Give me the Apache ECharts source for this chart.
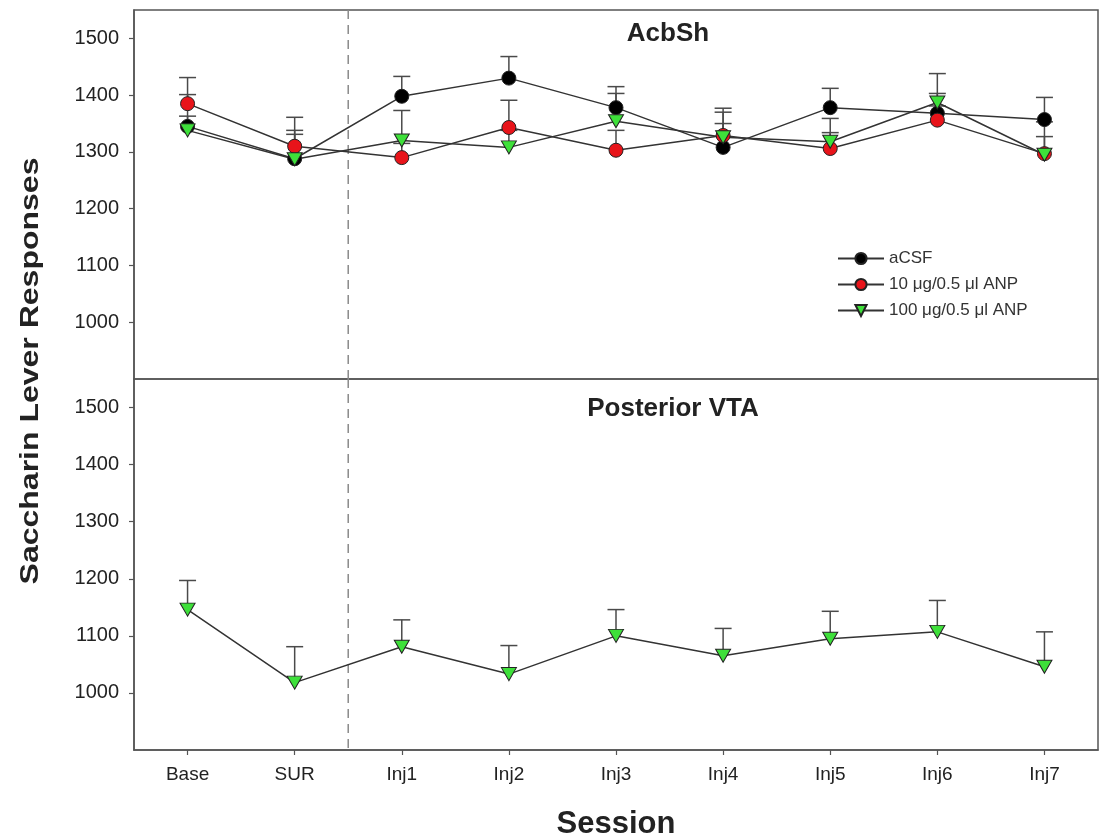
<!DOCTYPE html>
<html>
<head>
<meta charset="utf-8">
<script src="https://cdn.jsdelivr.net/npm/echarts@6/dist/echarts.min.js"></script>
<style>html,body{margin:0;padding:0;background:#fff}#c{width:1101px;height:838px}</style>
</head>
<body>
<div id="c"></div>
<script>
const sessions = ['Base', 'SUR', 'Inj1', 'Inj2', 'Inj3', 'Inj4', 'Inj5', 'Inj6', 'Inj7'];
const dividerBefore = 'Inj1';
const yTicks = [1000, 1100, 1200, 1300, 1400, 1500];
const yMin = 900, yMax = 1550;

// Panel A: AcbSh
const acbshACSF = [1345, 1288, 1398, 1430, 1378, 1308, 1378, 1368, 1357];
const acbshACSFErr = [56, 50, 35, 38, 37, 42, 34, 35, 39];
const acbsh10 = [1385, 1310, 1290, 1343, 1303, 1329, 1306, 1356, 1297];
const acbsh10Err = [46, 51, 25, 48, 35, 41, 28, 25, 30];
const acbsh100 = [1338, 1287, 1320, 1308, 1354, 1326, 1318, 1387, 1295];
const acbsh100Err = [25, 44, 53, 30, 49, 51, 41, 51, 58];

// Panel B: Posterior VTA
const vta100 = [1146, 1018, 1081, 1033, 1100, 1065, 1095, 1107, 1046];
const vta100Err = [51, 63, 47, 50, 46, 48, 48, 55, 61];

const names = ['aCSF', '10 \u03bcg/0.5 \u03bcl ANP', '100 \u03bcg/0.5 \u03bcl ANP'];

const FONT = "'Liberation Sans', Arial, sans-serif";
const frameColor = '#555';

function errData(m, e) { return m.map((v, i) => [i, v, e[i]]); }

function errRender(params, api) {
  const i = api.value(0), m = api.value(1), e = api.value(2);
  const p0 = api.coord([i, m]);
  const p1 = api.coord([i, m + e]);
  const hw = 8.5;
  const st = { stroke: '#4a4a4a', lineWidth: 1.5 };
  return {
    type: 'group',
    children: [
      { type: 'line', shape: { x1: p0[0], y1: p0[1], x2: p1[0], y2: p1[1] }, style: st },
      { type: 'line', shape: { x1: p1[0] - hw, y1: p1[1], x2: p1[0] + hw, y2: p1[1] }, style: st }
    ]
  };
}

const divIdx = sessions.indexOf(dividerBefore);
function divRender(params, api) {
  const a = api.coord([divIdx - 1, yMax]);
  const b = api.coord([divIdx, yMin]);
  const x = (a[0] + b[0]) / 2;
  return {
    type: 'line',
    shape: { x1: x, y1: a[1], x2: x, y2: b[1] },
    style: { stroke: '#8a8a8a', lineWidth: 1.5, lineDash: [9, 6] }
  };
}

function lineSeries(name, data, gi, color, symbol, size, rotate) {
  return {
    type: 'line', name: name, data: data,
    xAxisIndex: gi, yAxisIndex: gi,
    symbol: symbol, symbolSize: size, symbolRotate: rotate || 0,
    showAllSymbol: true,
    lineStyle: { color: '#333', width: 1.5 },
    itemStyle: { color: color, borderColor: '#222', borderWidth: 1 },
    emphasis: { disabled: true },
    z: 3, animation: false
  };
}
function errSeries(m, e, gi) {
  return {
    type: 'custom', renderItem: errRender, data: errData(m, e),
    xAxisIndex: gi, yAxisIndex: gi, encode: { x: 0, y: 1 },
    z: 2, silent: true, animation: false
  };
}
function divSeries(gi) {
  return {
    type: 'custom', renderItem: divRender, data: [[divIdx, yMin]],
    xAxisIndex: gi, yAxisIndex: gi, encode: { x: 0, y: 1 },
    z: 1, silent: true, animation: false, clip: false
  };
}

function yAxis(gi) {
  return {
    type: 'value', gridIndex: gi, min: yMin, max: yMax,
    splitLine: { show: false },
    axisLine: { show: true, lineStyle: { color: frameColor, width: 1.5 } },
    axisTick: { show: true, length: 5, customValues: yTicks, lineStyle: { color: frameColor, width: 1.2 } },
    axisLabel: { customValues: yTicks, formatter: v => String(v), fontFamily: FONT, fontSize: 20, color: '#222', margin: 15 }
  };
}

const chart = echarts.init(document.getElementById('c'), null, { renderer: 'canvas' });
chart.setOption({
  backgroundColor: '#fff',
  animation: false,
  grid: [
    { left: 134, right: 3, top: 10, height: 369, show: true, borderColor: frameColor, borderWidth: 1.5, containLabel: false, outerBoundsMode: 'none' },
    { left: 134, right: 3, top: 379, height: 371, show: true, borderColor: frameColor, borderWidth: 1.5, containLabel: false, outerBoundsMode: 'none' }
  ],
  xAxis: [
    { type: 'category', gridIndex: 0, data: sessions, boundaryGap: true,
      axisLine: { show: false }, axisTick: { show: false }, axisLabel: { show: false } },
    { type: 'category', gridIndex: 1, data: sessions, boundaryGap: true,
      axisLine: { show: true, lineStyle: { color: frameColor, width: 1.5 } },
      axisTick: { show: true, alignWithLabel: true, length: 5, lineStyle: { color: frameColor, width: 1.2 } },
      axisLabel: { fontFamily: FONT, fontSize: 19, color: '#222', margin: 15 },
      name: 'Session', nameLocation: 'middle', nameGap: 59,
      nameTextStyle: { fontFamily: FONT, fontSize: 31, fontWeight: 'bold', color: '#222' } }
  ],
  yAxis: [yAxis(0), yAxis(1)],
  legend: {
    data: names, orient: 'vertical', left: 832, top: 245,
    itemWidth: 46, itemHeight: 14, itemGap: 9,
    textStyle: { fontFamily: FONT, fontSize: 17, color: '#333' },
    selectedMode: false
  },
  graphic: [
    { type: 'text', x: 668, y: 34, style: { text: 'AcbSh', font: "bold 26px 'Liberation Sans', Arial", fill: '#222', align: 'center', verticalAlign: 'middle' } },
    { type: 'text', x: 673, y: 409, style: { text: 'Posterior VTA', font: "bold 26px 'Liberation Sans', Arial", fill: '#222', align: 'center', verticalAlign: 'middle' } },
    { type: 'text', x: 31, y: 371, rotation: Math.PI / 2, scaleX: 1.28,
      style: { text: 'Saccharin Lever Responses', font: "bold 25px 'Liberation Sans', Arial", fill: '#222', align: 'center', verticalAlign: 'middle' } }
  ],
  series: [
    divSeries(0), divSeries(1),
    errSeries(acbshACSF, acbshACSFErr, 0),
    errSeries(acbsh10, acbsh10Err, 0),
    errSeries(acbsh100, acbsh100Err, 0),
    errSeries(vta100, vta100Err, 1),
    lineSeries(names[0], acbshACSF, 0, '#000000', 'circle', 14),
    lineSeries(names[1], acbsh10, 0, '#e8141a', 'circle', 14),
    lineSeries(names[2], acbsh100, 0, '#3ee03a', 'triangle', [15, 13], 180),
    lineSeries('VTA 100', vta100, 1, '#3ee03a', 'triangle', [15, 13], 180)
  ]
});
</script>
</body>
</html>
